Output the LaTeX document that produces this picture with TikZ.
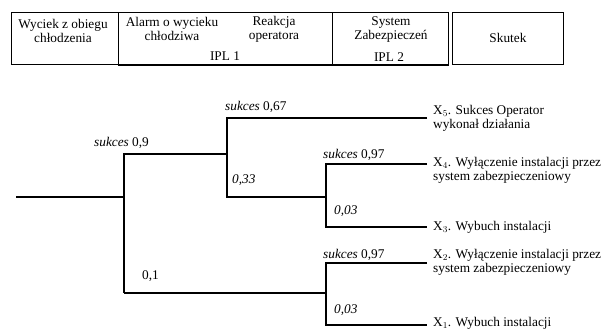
\documentclass[tikz,border=0pt]{standalone}
\usepackage{fontspec}
\setmainfont{Liberation Serif}
\usetikzlibrary{positioning}

\begin{document}
\begin{tikzpicture}[x=1pt,y=-1pt,font=\fontsize{13.3}{14}\selectfont]
    \tikzset{head/.style={draw,line width=0.9pt,anchor=north west,inner sep=0pt,minimum height=52pt},
        branch/.style={line width=2pt},
        lbl/.style={anchor=west,inner sep=0pt},
        outtxt/.style={align=left,inner sep=0pt}}
    \useasboundingbox (0,0) rectangle (603,331);
    % naglowek
    \node[head,minimum width=107pt] (hwyciek) at (11,12) {};
    \node[head,minimum width=214pt] (hipl1) at (118,12) {};
    \node[head,minimum width=116pt] (hipl2) at (332,12) {};
    \node[head,minimum width=111pt] (hskutek) at (452,12) {};
    \draw[line width=1.8pt] (hipl1.south west) -- (hipl2.south east);
    \node[align=center,inner sep=0pt] (twyciek) at (63,30.5) {Wyciek z obiegu\\chłodzenia};
    \node[align=center,inner sep=0pt] (talarm) at (172,29) {Alarm o wycieku\\chłodziwa};
    \node[align=center,inner sep=0pt] (treakcja) at (274,29) {Reakcja\\operatora};
    \node[inner sep=0pt] (tipl1) at (225,56) {IPL 1};
    \node[align=center,inner sep=0pt] (tsystem) at (391,29.5) {System\\Zabezpieczeń};
    \node[inner sep=0pt] (tipl2) at (389,57) {IPL 2};
    \node[inner sep=0pt] (tskutek) at (hskutek.center) {Skutek};
    % drzewo zdarzen
    \coordinate (root) at (16,197);
    \coordinate (a) at (124,197);
    \coordinate (aU) at (124,154);
    \coordinate (aD) at (124,293);
    \coordinate (b) at (227,154);
    \coordinate (bD) at (227,197);
    \coordinate (c) at (326,197);
    \coordinate (cD) at (326,227);
    \coordinate (d) at (326,293);
    \coordinate (dD) at (326,325);
    \coordinate (e5) at (427,118);
    \coordinate (e4) at (427,164);
    \coordinate (e3) at (427,227);
    \coordinate (e2) at (427,263);
    \coordinate (e1) at (427,325);
    \draw[line width=1.3pt] (root) -- (a);
    \draw[branch] (aD) |- (b);
    \draw[branch] (aD) -- (d);
    \draw[branch] (e5) -| (bD) -- (c);
    \draw[branch] (e4) -| (cD) -- (e3);
    \draw[branch] (e2) -| (dD) -- (e1);
    % prawdopodobienstwa
    \node[lbl] (p09) at (94,143) {\textit{sukces} 0,9};
    \node[lbl] (p01) at (142,276) {0,1};
    \node[lbl] (p067) at (225,107) {\textit{sukces} 0,67};
    \node[lbl] (p033) at (232,180) {\textit{0,33}};
    \node[lbl] (p097a) at (323,155) {\textit{sukces} 0,97};
    \node[lbl] (p003a) at (334,211) {\textit{0,03}};
    \node[lbl] (p097b) at (323,255) {\textit{sukces} 0,97};
    \node[lbl] (p003b) at (334,310) {\textit{0,03}};
    % skutki
    \node[outtxt,right=6pt of e5] (x5) {X$_5$. Sukces Operator\\wykonał działania};
    \node[outtxt,right=6pt of e4,yshift=-6pt] (x4) {X$_4$. Wyłączenie instalacji przez\\system zabezpieczeniowy};
    \node[outtxt,right=6pt of e3] (x3) {X$_3$. Wybuch instalacji};
    \node[outtxt,right=6pt of e2,yshift=1pt] (x2) {X$_2$. Wyłączenie instalacji przez\\system zabezpieczeniowy};
    \node[outtxt,right=6pt of e1,yshift=2pt] (x1) {X$_1$. Wybuch instalacji};
\end{tikzpicture}
\end{document}
